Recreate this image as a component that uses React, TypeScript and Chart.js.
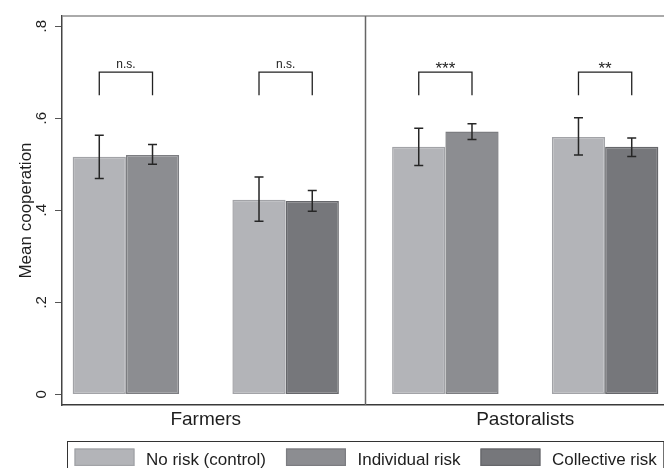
import React, { useEffect, useRef } from 'react';
import { Chart, registerables } from 'chart.js';

Chart.register(...registerables);

// ---------- data ----------
const panels = ['Farmers', 'Pastoralists'];
const panelCenters = [1.5, 3.5];
const panelDivider = 2.5;
const groupX = [1, 2, 3, 4];
const seriesLabels = ['No risk (control)', 'Individual risk', 'Collective risk'];

const noRisk = [0.516, 0.423, 0.538, 0.559];
const noRiskLow = [0.469, 0.376, 0.497, 0.52];
const noRiskHigh = [0.563, 0.472, 0.578, 0.601];

const individualRisk = [0.52, null, 0.571, null];
const individualLow = [0.5, null, 0.554, null];
const individualHigh = [0.543, null, 0.588, null];

const collectiveRisk = [null, 0.42, null, 0.538];
const collectiveLow = [null, 0.398, null, 0.517];
const collectiveHigh = [null, 0.443, null, 0.557];

const significance = ['n.s.', 'n.s.', '***', '**'];
const bracketTop = 0.7;
const bracketLeg = 0.65;

const yTicks = [0, 0.2, 0.4, 0.6, 0.8];
const yTickLabels = ['0', '.2', '.4', '.6', '.8'];
const yMin = -0.023;
const yMax = 0.822;
const xMin = 0.6;
const xMax = 4.4;

// ---------- styles ----------
const FONT = '"Liberation Sans", Arial, Helvetica, sans-serif';
const fills = ['#b3b4b8', '#8c8d91', '#76777b'];
const borders = ['#a2a3a7', '#7c7d81', '#66676b'];

const seriesValues = [noRisk, individualRisk, collectiveRisk];
const seriesLow = [noRiskLow, individualLow, collectiveLow];
const seriesHigh = [noRiskHigh, individualHigh, collectiveHigh];

function buildPoints(s: number) {
  const pts: any[] = [];
  seriesValues[s].forEach((v, i) => {
    if (v == null) return;
    pts.push({ x: groupX[i], y: v, lo: seriesLow[s][i], hi: seriesHigh[s][i], g: i });
  });
  return pts;
}

const framePlugin = {
  id: 'frame',
  beforeDatasetsDraw(chart: any) {
    const { ctx, chartArea: a, scales } = chart;
    ctx.save();
    ctx.strokeStyle = '#8e8e8e';
    ctx.lineWidth = 1.5;
    ctx.beginPath();
    ctx.moveTo(a.left, a.top);
    ctx.lineTo(a.right, a.top);
    ctx.lineTo(a.right, a.bottom);
    ctx.stroke();
    const dx = scales.x.getPixelForValue(panelDivider);
    ctx.strokeStyle = '#666';
    ctx.beginPath();
    ctx.moveTo(dx, a.top);
    ctx.lineTo(dx, a.bottom);
    ctx.stroke();
    ctx.restore();
  },
};

const errorPlugin = {
  id: 'errs',
  afterDatasetsDraw(chart: any) {
    const { ctx, scales } = chart;
    const y = scales.y;
    const groups: number[][] = groupX.map(() => []);
    ctx.save();
    ctx.strokeStyle = '#262626';
    ctx.lineWidth = 1.5;
    chart.data.datasets.forEach((ds: any, di: number) => {
      const meta = chart.getDatasetMeta(di);
      meta.data.forEach((el: any, j: number) => {
        const p = ds.data[j];
        groups[p.g].push(el.x);
        const yh = y.getPixelForValue(p.hi);
        const yl = y.getPixelForValue(p.lo);
        const cw = 4.5;
        ctx.beginPath();
        ctx.moveTo(el.x, yh);
        ctx.lineTo(el.x, yl);
        ctx.moveTo(el.x - cw, yh);
        ctx.lineTo(el.x + cw, yh);
        ctx.moveTo(el.x - cw, yl);
        ctx.lineTo(el.x + cw, yl);
        ctx.stroke();
      });
    });
    // significance brackets
    ctx.lineWidth = 1.3;
    ctx.strokeStyle = '#222';
    ctx.fillStyle = '#222';
    ctx.textAlign = 'center';
    ctx.textBaseline = 'alphabetic';
    const yt = y.getPixelForValue(bracketTop);
    const yl = y.getPixelForValue(bracketLeg);
    groups.forEach((xs, i) => {
      if (xs.length < 2) return;
      xs.sort((a, b) => a - b);
      const x1 = xs[0];
      const x2 = xs[xs.length - 1];
      ctx.beginPath();
      ctx.moveTo(x1, yl);
      ctx.lineTo(x1, yt);
      ctx.lineTo(x2, yt);
      ctx.lineTo(x2, yl);
      ctx.stroke();
      const s = significance[i];
      const stars = /^\*+$/.test(s);
      ctx.font = (stars ? '17px ' : '12px ') + FONT;
      ctx.fillText(s, (x1 + x2) / 2, yt + (stars ? 1.5 : -4.5));
    });
    ctx.restore();
  },
};

const legendPlugin = {
  id: 'boxLegend',
  afterDraw(chart: any) {
    const { ctx, chartArea: a } = chart;
    ctx.save();
    ctx.font = '17px ' + FONT;
    const swW = 60;
    const swH = 17.5;
    const swGap = 11.5;
    const itemGap = 20;
    const pad = 7;
    const items = chart.data.datasets.map((ds: any) => ({
      label: ds.label,
      fill: ds.backgroundColor,
      border: ds.borderColor,
      w: ctx.measureText(ds.label).width,
    }));
    let content = 0;
    items.forEach((it: any, i: number) => {
      content += swW + swGap + it.w + (i > 0 ? itemGap : 0);
    });
    const boxW = content + 2 * pad;
    const cx = (a.left + a.right) / 2;
    const boxL = Math.round(cx - boxW / 2) + 0.5;
    const boxT = Math.round(a.bottom + 35.7) + 0.5;
    ctx.strokeStyle = '#333';
    ctx.lineWidth = 1;
    ctx.strokeRect(boxL, boxT, boxW, 60);
    let xx = boxL + pad;
    items.forEach((it: any) => {
      ctx.fillStyle = it.fill;
      ctx.fillRect(xx, boxT + 7, swW, swH);
      ctx.strokeStyle = it.border;
      ctx.lineWidth = 1.2;
      ctx.strokeRect(xx + 0.6, boxT + 7.6, swW - 1.2, swH - 1.2);
      ctx.fillStyle = '#1e1e1e';
      ctx.textAlign = 'left';
      ctx.textBaseline = 'alphabetic';
      ctx.fillText(it.label, xx + swW + swGap, boxT + 23.3);
      xx += swW + swGap + it.w + itemGap;
    });
    ctx.restore();
  },
};

export default function App() {
  const ref = useRef<HTMLCanvasElement | null>(null);

  useEffect(() => {
    if (!ref.current) return;
    Chart.defaults.font.family = FONT;
    const chart = new Chart(ref.current, {
      type: 'bar',
      data: {
        datasets: seriesLabels.map((label, s) => ({
          label,
          data: buildPoints(s),
          backgroundColor: fills[s],
          borderColor: borders[s],
          borderWidth: 1.5,
          borderSkipped: false,
          skipNull: true,
          categoryPercentage: 2 / 3,
          barPercentage: 1,
        })) as any,
      },
      options: {
        animation: false,
        responsive: false,
        devicePixelRatio: 1,
        layout: { padding: { left: 0, top: 12, right: 11, bottom: 45 } },
        plugins: { legend: { display: false }, tooltip: { enabled: false } },
        scales: {
          x: {
            type: 'linear',
            min: xMin,
            max: xMax,
            bounds: 'data',
            offset: false,
            grid: { display: false, drawTicks: false, offset: false },
            border: { display: true, color: '#3a3a3a', width: 1.5 },
            afterBuildTicks: (scale: any) => {
              scale.ticks = panelCenters.map((v) => ({ value: v }));
            },
            afterFit: (scale: any) => {
              scale.height = 30;
            },
            ticks: {
              autoSkip: false,
              maxRotation: 0,
              padding: 3,
              color: '#1e1e1e',
              font: { size: 19, family: FONT },
              callback: (_v: any, i: number) => panels[i],
            },
          },
          y: {
            type: 'linear',
            min: yMin,
            max: yMax,
            bounds: 'data',
            grid: {
              drawOnChartArea: false,
              drawTicks: true,
              tickLength: 7,
              color: '#555',
              lineWidth: 1,
            },
            border: { display: true, color: '#444', width: 1.5 },
            afterBuildTicks: (scale: any) => {
              scale.ticks = yTicks.map((v) => ({ value: v }));
            },
            afterFit: (scale: any) => {
              scale.width = 62;
            },
            ticks: {
              minRotation: 90,
              maxRotation: 90,
              crossAlign: 'center',
              padding: 7,
              color: '#1e1e1e',
              font: { size: 15, family: FONT },
              callback: (_v: any, i: number) => yTickLabels[i],
            },
            title: {
              display: true,
              text: 'Mean cooperation',
              color: '#1e1e1e',
              font: { size: 17, family: FONT },
              padding: { top: 16, bottom: 0 },
            },
          },
        },
      } as any,
      plugins: [framePlugin, errorPlugin, legendPlugin],
    });
    return () => chart.destroy();
  }, []);

  return (
    <div style={{ position: 'fixed', left: 0, top: 0, width: 680, height: 480, background: '#fff' }}>
      <canvas ref={ref} width={680} height={480} style={{ display: 'block' }} />
    </div>
  );
}
